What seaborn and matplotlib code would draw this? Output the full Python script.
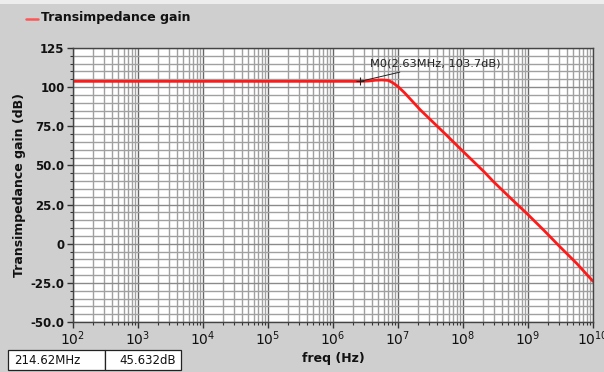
import matplotlib
matplotlib.use("Agg")
import matplotlib.pyplot as plt
import matplotlib.ticker as mticker
from matplotlib.patches import Rectangle
import numpy as np
import pandas as pd
import seaborn as sns

freq_hz = [1e2, 1e3, 1e4, 1e5, 1e6, 2.63e6, 3.55e6, 4.47e6, 5.62e6, 7.08e6, 8.32e6,
           1e7, 1.26e7, 1.58e7, 2.19e7, 3.16e7, 5.62e7, 8.91e7, 1.58e8, 2.1462e8,
           2.95e8, 5.62e8, 9.55e8, 1.78e9, 3.09e9, 5.62e9, 1e10]
gain_db = [103.7, 103.7, 103.7, 103.7, 103.7, 103.7, 103.9, 104.4, 104.6, 104.3, 102.8,
           100.4, 96.4, 92.0, 85.6, 79.2, 69.2, 61.0, 51.0, 45.632,
           39.6, 28.4, 19.4, 8.3, -1.9, -12.6, -24.0]
series_name = "Transimpedance gain"
y_ticks = [-50, -25, 0, 25, 50, 75, 100, 125]
y_tick_labels = ["-50.0", "-25.0", "0", "25.0", "50.0", "75.0", "100", "125"]
marker_freq = 2.63e6
marker_gain = 103.7
marker_text = "M0(2.63MHz, 103.7dB)"
readout = ["214.62MHz", "45.632dB"]

df = pd.DataFrame({"freq": freq_hz, "gain": gain_db})

sns.set_style("white")
plt.rcParams["font.family"] = ["DejaVu Sans"]

W, H = 604, 372
bg = "#cfcfcf"
fig = plt.figure(figsize=(W / 100, H / 100), dpi=100, facecolor=bg)
fig.patches.append(Rectangle((0, 1 - 4 / H), 1, 4 / H, transform=fig.transFigure,
                             fc="#ededed", ec="none", zorder=-1))
ax = fig.add_axes([73 / W, 1 - 322 / H, (593 - 73) / W, (322 - 48) / H])
ax.set_facecolor("white")

sns.lineplot(data=df, x="freq", y="gain", ax=ax, color="#ff1a1a", linewidth=2.0, legend=False)
ax.set_xscale("log")
ax.set_xlim(1e2, 1e10)
ax.set_ylim(-50, 125)

ax.xaxis.set_major_locator(mticker.LogLocator(base=10, numticks=20))
ax.xaxis.set_minor_locator(mticker.LogLocator(base=10, subs=np.arange(2, 10), numticks=100))
ax.xaxis.set_minor_formatter(mticker.NullFormatter())
ax.xaxis.set_major_formatter(mticker.FuncFormatter(lambda v, p: r"$10^{%d}$" % round(np.log10(v))))
ax.set_yticks(y_ticks)
ax.set_yticklabels(y_tick_labels)
ax.yaxis.set_minor_locator(mticker.MultipleLocator(5))
ax.grid(which="major", axis="x", color="#666666", linewidth=1.0)
ax.grid(which="minor", axis="x", color="#a0a0a0", linewidth=1.0)
ax.grid(which="major", axis="y", color="#8a8a8a", linewidth=1.0)
ax.grid(which="minor", axis="y", color="#a0a0a0", linewidth=1.0)
ax.set_axisbelow(True)

ax.tick_params(which="major", direction="out", length=4, width=1, color="#333333",
               pad=2, left=True, bottom=True)
ax.tick_params(which="minor", direction="out", length=2.5, width=0.8, color="#333333",
               left=True, bottom=True)
ax.tick_params(axis="y", labelsize=8.5, labelcolor="#111111")
ax.tick_params(axis="x", labelsize=10, pad=1, labelcolor="#111111")
for lab in ax.get_yticklabels():
    lab.set_fontweight("bold")
for s in ax.spines.values():
    s.set_color("#444444")
    s.set_linewidth(1.0)

ax.set_xlabel("freq (Hz)", fontsize=9, fontweight="bold", labelpad=3, color="#111111")
ax.set_ylabel("Transimpedance gain (dB)", fontsize=9, fontweight="bold", color="#111111")
ax.yaxis.set_label_coords(-(73 - 26) / (593 - 73), 0.5)

ax.plot([marker_freq], [marker_gain], marker="+", color="#222222", markersize=6, mew=0.8)
ax.annotate(marker_text, xy=(marker_freq, marker_gain), xytext=(7, 9),
            textcoords="offset points", fontsize=8.2, color="#222222", va="bottom",
            arrowprops=dict(arrowstyle="-", color="#222222", lw=0.7,
                            shrinkA=0, shrinkB=0))

fig.lines.append(plt.Line2D([26 / W, 38 / W], [1 - 19 / H, 1 - 19 / H],
                            transform=fig.transFigure, color="#ff5555", linewidth=1.8))
fig.text(41 / W, 1 - 18 / H, series_name, fontsize=9, fontweight="bold",
         va="center", ha="left", color="#111111")

for (x0, x1) in [(8, 105), (105, 181)]:
    fig.patches.append(Rectangle((x0 / W, 1 - 370 / H), (x1 - x0) / W, 20 / H,
                                 transform=fig.transFigure, fc="white", ec="#222222", lw=0.9))
fig.text(14 / W, 1 - 360 / H, readout[0], fontsize=8.5, va="center", ha="left", color="#111111")
fig.text(176 / W, 1 - 360 / H, readout[1], fontsize=8.5, va="center", ha="right", color="#111111")

fig.savefig("out.png", dpi=100, facecolor=bg)
